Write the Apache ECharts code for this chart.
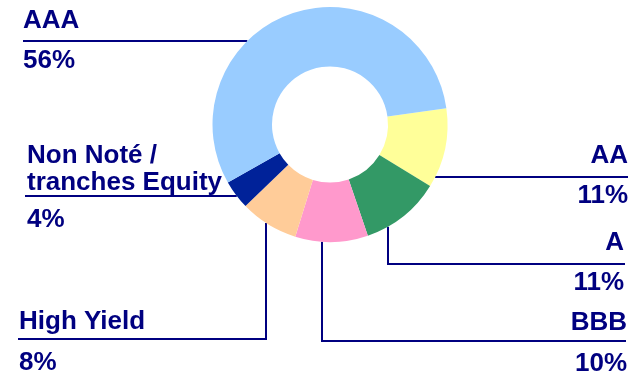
<!DOCTYPE html>
<html>
<head>
<meta charset="utf-8">
<script src="https://cdn.jsdelivr.net/npm/echarts@6/dist/echarts.min.js"></script>
<style>
  html, body { margin: 0; padding: 0; background: #ffffff; }
  #chart { width: 641px; height: 376px; }
</style>
</head>
<body>
<div id="chart"></div>
<script>
// Rating breakdown, listed clockwise starting from the AA slice
const ratings = ['AA', 'A', 'BBB', 'High Yield', 'Non Noté /\ntranches Equity', 'AAA'];
const shares = [11, 11, 10, 8, 4, 56];
const sliceColors = ['#FFFF99', '#339966', '#FF99CC', '#FFCC99', '#002299', '#99CCFF'];

const NAVY = '#000080';
const CX = 330, CY = 124.5, R_IN = 58, R_OUT = 117.5;
const FONT = 26;
const MID = 0.3465 * FONT; // distance from line centre to baseline

// Callout placement: text anchor, first-name baseline, horizontal leader y,
// outer end of the leader, optional vertical drop x, line heights
const callouts = [
  { align: 'right', x: 628, base: 165, lineY: 177, end: 628, nh: 40, ph: 40 },
  { align: 'right', x: 624, base: 252, lineY: 264, end: 625, vx: 388, nh: 40, ph: 40 },
  { align: 'right', x: 627, base: 332, lineY: 341, end: 626, vx: 322, nh: 40, ph: 42 },
  { align: 'left',  x: 19,  base: 331, lineY: 339, end: 18,  vx: 266, nh: 40, ph: 42 },
  { align: 'left',  x: 27,  base: 165, lineY: 196, end: 25,  nh: 27, ph: 47 },
  { align: 'left',  x: 23,  base: 30,  lineY: 41,  end: 23,  nh: 40, ph: 40 }
];

function leaderPoints(c) {
  if (c.vx != null) {
    const dx = c.vx - CX;
    const yEdge = CY + Math.sqrt(R_OUT * R_OUT - dx * dx);
    return [[c.vx, yEdge], [c.vx, c.lineY], [c.end, c.lineY]];
  }
  const dy = c.lineY - CY;
  const off = Math.sqrt(R_OUT * R_OUT - dy * dy);
  const xEdge = c.align === 'left' ? CX - off : CX + off;
  return [[xEdge, c.lineY], [(xEdge + c.end) / 2, c.lineY], [c.end, c.lineY]];
}

const data = ratings.map((name, i) => ({
  name: name,
  value: shares[i],
  itemStyle: { color: sliceColors[i] }
}));

const textStyle = { fontFamily: 'Liberation Sans, Arial, sans-serif', fontWeight: 'bold', fontSize: FONT, color: NAVY };

const chart = echarts.init(document.getElementById('chart'), null, { renderer: 'canvas' });
chart.setOption({
  backgroundColor: '#ffffff',
  animation: false,
  series: [{
    type: 'pie',
    center: [CX, CY],
    radius: [R_IN, R_OUT],
    startAngle: 8,
    clockwise: true,
    avoidLabelOverlap: false,
    emphasis: { disabled: true },
    itemStyle: { borderWidth: 0 },
    data: data,
    label: {
      show: true,
      position: 'outside',
      formatter: function (p) {
        const s = p.dataIndex === 4 ? ['m', 'q'] : (callouts[p.dataIndex].ph === 42 ? ['n', 'r'] : ['n', 'p']);
        return '{' + s[0] + '|' + p.name + '}\n{' + s[1] + '|' + p.value + '%}';
      },
      rich: {
        n: Object.assign({ lineHeight: 40 }, textStyle),
        p: Object.assign({ lineHeight: 40 }, textStyle),
        r: Object.assign({ lineHeight: 42 }, textStyle),
        m: Object.assign({ lineHeight: 27 }, textStyle),
        q: Object.assign({ lineHeight: 47 }, textStyle)
      }
    },
    labelLine: {
      show: true,
      lineStyle: { color: NAVY, width: 2 }
    },
    labelLayout: function (params) {
      const c = callouts[params.dataIndex];
      return {
        x: c.x,
        y: c.base - MID - c.nh / 2,
        align: c.align,
        verticalAlign: 'top',
        labelLinePoints: leaderPoints(c)
      };
    }
  }]
});
</script>
</body>
</html>
